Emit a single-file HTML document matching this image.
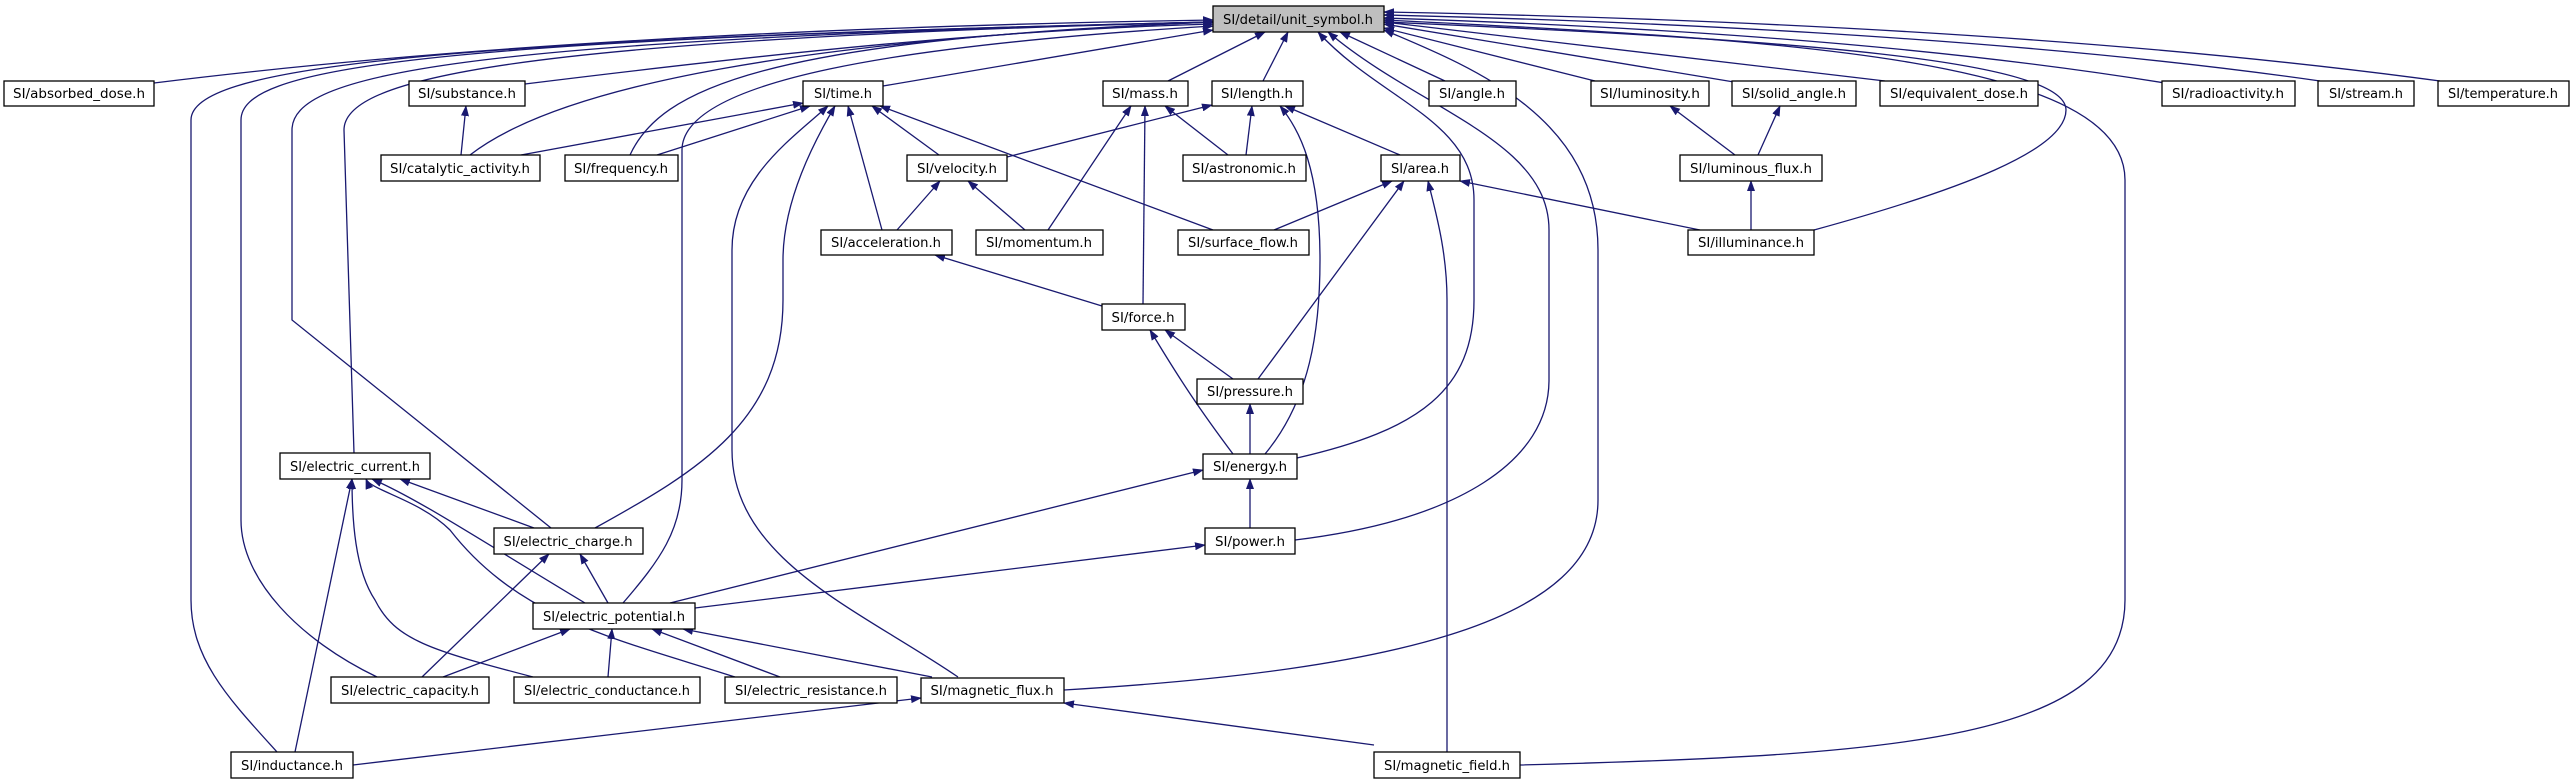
<!DOCTYPE html>
<html><head><meta charset="utf-8"><style>
html,body{margin:0;padding:0;background:#fff;width:2574px;height:784px;overflow:hidden}
text{font-family:"DejaVu Sans","Liberation Sans",sans-serif;font-size:13px;fill:#000}
</style></head><body>
<svg width="2574" height="784" viewBox="0 0 2574 784" xmlns="http://www.w3.org/2000/svg">
<defs><marker id="a" markerUnits="userSpaceOnUse" markerWidth="11" markerHeight="8" refX="10" refY="4" orient="auto"><path d="M0,0 L11,4 L0,8 z" fill="#191970"/></marker></defs>
<g fill="none" stroke="#191970" stroke-width="1.3" marker-end="url(#a)">
<path d="M154,83 C500,40 900,25 1213,20"/>
<path d="M525,84 C800,50 1000,30 1213,24"/>
<path d="M883,86 L1213,30"/>
<path d="M470,155 C560,85 800,40 1213,22"/>
<path d="M630,155 C660,90 760,40 1213,22"/>
<path d="M1168,81 L1265,32"/>
<path d="M1263,81 L1288,32"/>
<path d="M1445,81 L1340,32"/>
<path d="M1595,81 L1384,28"/>
<path d="M1740,83 L1384,24"/>
<path d="M1885,81 L1384,22"/>
<path d="M2165,83 C1900,40 1600,25 1384,18"/>
<path d="M2320,81 C2000,35 1600,20 1384,15"/>
<path d="M2440,81 C2100,35 1700,18 1384,12"/>
<path d="M461,155 L466,106"/>
<path d="M521,155 L803,103"/>
<path d="M657,155 L810,106"/>
<path d="M939,155 L872,106"/>
<path d="M882,230 L848,106"/>
<path d="M1213,230 L880,106"/>
<path d="M595,528 C700,470 783,420 783,300 L783,260 C783,200 815,140 835,106"/>
<path d="M958,677 C860,610 732,560 732,450 L732,250 C732,180 790,140 828,106"/>
<path d="M1007,157 L1212,105"/>
<path d="M1228,155 L1165,106"/>
<path d="M1246,155 L1252,106"/>
<path d="M1048,230 L1131,106"/>
<path d="M1143,304 L1145,106"/>
<path d="M1025,230 L968,181"/>
<path d="M897,230 L940,181"/>
<path d="M1400,155 L1285,106"/>
<path d="M1265,454 C1310,400 1320,330 1320,260 C1320,170 1300,130 1280,106"/>
<path d="M1274,230 L1392,181"/>
<path d="M1258,379 L1404,181"/>
<path d="M1700,230 L1460,181"/>
<path d="M1447,752 L1447,300 C1447,250 1435,210 1428,181"/>
<path d="M1102,306 L935,255"/>
<path d="M1233,379 L1165,330"/>
<path d="M1233,454 C1200,410 1180,380 1150,330"/>
<path d="M1250,454 L1250,404"/>
<path d="M1250,528 L1250,479"/>
<path d="M670,603 L1203,470"/>
<path d="M695,608 L1205,545"/>
<path d="M1735,155 L1670,106"/>
<path d="M1758,155 L1780,106"/>
<path d="M1751,230 L1751,181"/>
<path d="M534,528 L400,479"/>
<path d="M585,603 C480,540 420,500 372,479"/>
<path d="M422,677 L549,554"/>
<path d="M608,603 L580,554"/>
<path d="M443,677 L570,629"/>
<path d="M608,677 L612,629"/>
<path d="M780,677 L652,629"/>
<path d="M932,677 L683,629"/>
<path d="M295,752 L352,479"/>
<path d="M533,677 C430,650 395,640 375,600 C355,570 352,520 352,479"/>
<path d="M735,677 C620,640 520,620 450,530 C420,500 370,490 366,479"/>
<path d="M353,765 L921,698"/>
<path d="M1374,745 L1064,703"/>
<path d="M377,677 C300,640 241,580 241,520 L241,120 C241,70 400,40 1213,22"/>
<path d="M277,752 C230,700 191,660 191,600 L191,120 C191,70 400,40 1213,22"/>
<path d="M354,453 L344,130 C344,80 500,40 1213,22"/>
<path d="M551,528 L292,320 L292,130 C292,75 450,40 1213,22"/>
<path d="M623,603 C660,560 682,530 682,480 L682,150 C682,80 900,45 1213,26"/>
<path d="M1297,458 C1420,430 1474,390 1474,300 L1474,200 C1474,120 1380,100 1318,32"/>
<path d="M1295,540 C1460,520 1549,460 1549,380 L1549,230 C1549,140 1420,110 1328,32"/>
<path d="M1064,690 C1400,670 1598,620 1598,500 L1598,250 C1598,120 1480,70 1384,30"/>
<path d="M1520,765 C1900,755 2125,740 2125,600 L2125,180 C2125,60 1800,40 1384,20"/>
<path d="M1814,230 C1960,190 2066,150 2066,110 C2066,60 1800,40 1384,22"/>
</g>
<g stroke="#000" stroke-width="1.3" fill="#fff">
<rect x="1213" y="6" width="171" height="26" fill="#bfbfbf"/>
<rect x="4" y="81" width="150" height="25"/>
<rect x="409" y="81" width="116" height="25"/>
<rect x="803" y="81" width="80" height="25"/>
<rect x="1103" y="81" width="85" height="25"/>
<rect x="1212" y="81" width="91" height="25"/>
<rect x="1429" y="81" width="87" height="25"/>
<rect x="1591" y="81" width="118" height="25"/>
<rect x="1732" y="81" width="124" height="25"/>
<rect x="1880" y="81" width="158" height="25"/>
<rect x="2162" y="81" width="133" height="25"/>
<rect x="2318" y="81" width="96" height="25"/>
<rect x="2438" y="81" width="131" height="25"/>
<rect x="381" y="155" width="159" height="26"/>
<rect x="565" y="155" width="113" height="26"/>
<rect x="907" y="155" width="100" height="26"/>
<rect x="1183" y="155" width="123" height="26"/>
<rect x="1381" y="155" width="79" height="26"/>
<rect x="1680" y="155" width="142" height="26"/>
<rect x="821" y="230" width="131" height="25"/>
<rect x="976" y="230" width="127" height="25"/>
<rect x="1178" y="230" width="131" height="25"/>
<rect x="1688" y="230" width="126" height="25"/>
<rect x="1102" y="304" width="83" height="26"/>
<rect x="1197" y="379" width="106" height="25"/>
<rect x="1203" y="454" width="94" height="25"/>
<rect x="280" y="453" width="150" height="26"/>
<rect x="494" y="528" width="149" height="26"/>
<rect x="1205" y="528" width="90" height="26"/>
<rect x="533" y="603" width="162" height="26"/>
<rect x="331" y="677" width="158" height="26"/>
<rect x="514" y="677" width="186" height="26"/>
<rect x="725" y="677" width="172" height="26"/>
<rect x="921" y="678" width="143" height="25"/>
<rect x="231" y="752" width="122" height="26"/>
<rect x="1374" y="752" width="146" height="26"/>
</g>
<g text-anchor="middle">
<text x="1298" y="24" textLength="150" lengthAdjust="spacingAndGlyphs">SI/detail/unit_symbol.h</text>
<text x="79" y="98" textLength="132" lengthAdjust="spacingAndGlyphs">SI/absorbed_dose.h</text>
<text x="467" y="98" textLength="98" lengthAdjust="spacingAndGlyphs">SI/substance.h</text>
<text x="843" y="98" textLength="58" lengthAdjust="spacingAndGlyphs">SI/time.h</text>
<text x="1145" y="98" textLength="66" lengthAdjust="spacingAndGlyphs">SI/mass.h</text>
<text x="1257" y="98" textLength="72" lengthAdjust="spacingAndGlyphs">SI/length.h</text>
<text x="1472" y="98" textLength="66" lengthAdjust="spacingAndGlyphs">SI/angle.h</text>
<text x="1650" y="98" textLength="100" lengthAdjust="spacingAndGlyphs">SI/luminosity.h</text>
<text x="1794" y="98" textLength="104" lengthAdjust="spacingAndGlyphs">SI/solid_angle.h</text>
<text x="1959" y="98" textLength="138" lengthAdjust="spacingAndGlyphs">SI/equivalent_dose.h</text>
<text x="2228" y="98" textLength="112" lengthAdjust="spacingAndGlyphs">SI/radioactivity.h</text>
<text x="2366" y="98" textLength="74" lengthAdjust="spacingAndGlyphs">SI/stream.h</text>
<text x="2503" y="98" textLength="110" lengthAdjust="spacingAndGlyphs">SI/temperature.h</text>
<text x="460" y="173" textLength="140" lengthAdjust="spacingAndGlyphs">SI/catalytic_activity.h</text>
<text x="621" y="173" textLength="94" lengthAdjust="spacingAndGlyphs">SI/frequency.h</text>
<text x="957" y="173" textLength="80" lengthAdjust="spacingAndGlyphs">SI/velocity.h</text>
<text x="1244" y="173" textLength="104" lengthAdjust="spacingAndGlyphs">SI/astronomic.h</text>
<text x="1420" y="173" textLength="58" lengthAdjust="spacingAndGlyphs">SI/area.h</text>
<text x="1751" y="173" textLength="122" lengthAdjust="spacingAndGlyphs">SI/luminous_flux.h</text>
<text x="886" y="247" textLength="110" lengthAdjust="spacingAndGlyphs">SI/acceleration.h</text>
<text x="1039" y="247" textLength="106" lengthAdjust="spacingAndGlyphs">SI/momentum.h</text>
<text x="1243" y="247" textLength="110" lengthAdjust="spacingAndGlyphs">SI/surface_flow.h</text>
<text x="1751" y="247" textLength="106" lengthAdjust="spacingAndGlyphs">SI/illuminance.h</text>
<text x="1143" y="322" textLength="63" lengthAdjust="spacingAndGlyphs">SI/force.h</text>
<text x="1250" y="396" textLength="86" lengthAdjust="spacingAndGlyphs">SI/pressure.h</text>
<text x="1250" y="471" textLength="74" lengthAdjust="spacingAndGlyphs">SI/energy.h</text>
<text x="355" y="471" textLength="130" lengthAdjust="spacingAndGlyphs">SI/electric_current.h</text>
<text x="568" y="546" textLength="129" lengthAdjust="spacingAndGlyphs">SI/electric_charge.h</text>
<text x="1250" y="546" textLength="70" lengthAdjust="spacingAndGlyphs">SI/power.h</text>
<text x="614" y="621" textLength="142" lengthAdjust="spacingAndGlyphs">SI/electric_potential.h</text>
<text x="410" y="695" textLength="138" lengthAdjust="spacingAndGlyphs">SI/electric_capacity.h</text>
<text x="607" y="695" textLength="166" lengthAdjust="spacingAndGlyphs">SI/electric_conductance.h</text>
<text x="811" y="695" textLength="152" lengthAdjust="spacingAndGlyphs">SI/electric_resistance.h</text>
<text x="992" y="695" textLength="123" lengthAdjust="spacingAndGlyphs">SI/magnetic_flux.h</text>
<text x="292" y="770" textLength="102" lengthAdjust="spacingAndGlyphs">SI/inductance.h</text>
<text x="1447" y="770" textLength="126" lengthAdjust="spacingAndGlyphs">SI/magnetic_field.h</text>
</g>
</svg>
</body></html>
